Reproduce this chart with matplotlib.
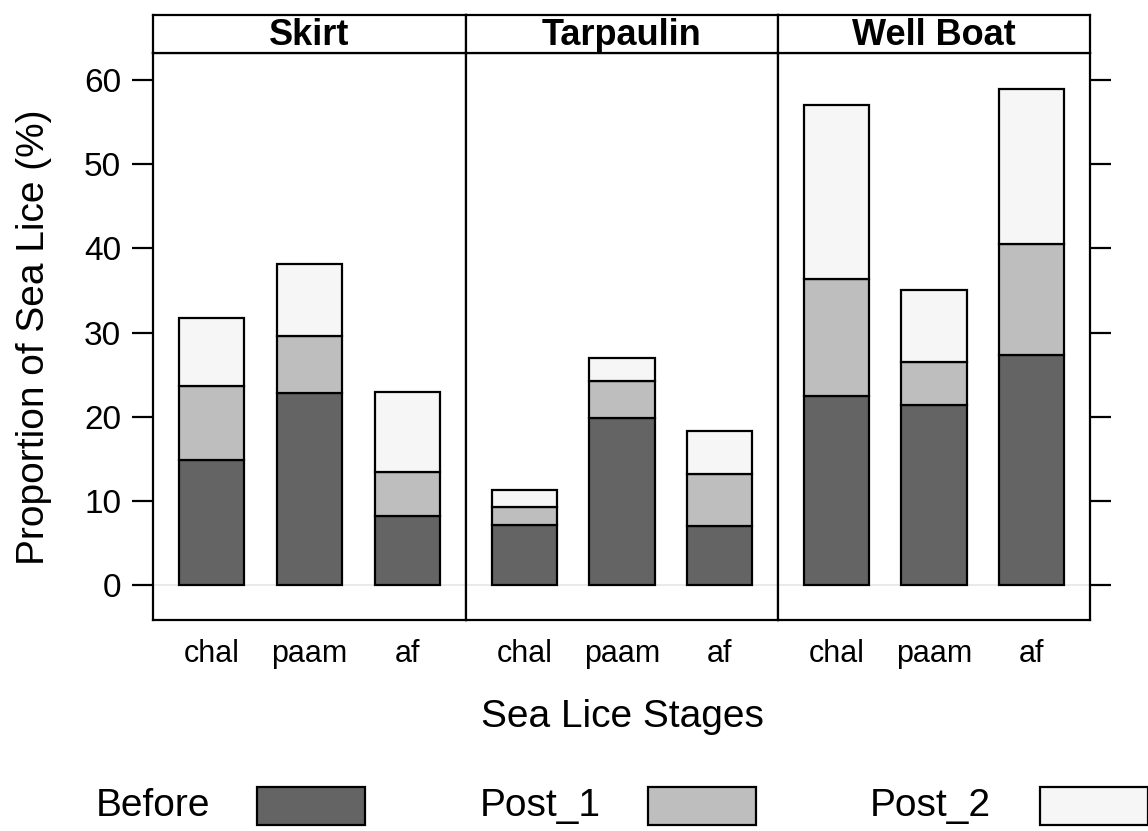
import numpy as np
import matplotlib.pyplot as plt
from matplotlib.patches import Rectangle

plt.rcParams['font.family'] = ['Liberation Sans', 'DejaVu Sans']

# ------------------------------------------
# data (stacked segment sizes, %)
# ------------------------------------------
methods = ["Skirt", "Tarpaulin", "Well Boat"]
stages = ["chal", "paam", "af"]
periods = ["Before", "Post_1", "Post_2"]
colors = ["#646464", "#bebebe", "#f6f6f6"]

before = {
    "Skirt": [14.8, 22.8, 8.2],
    "Tarpaulin": [7.1, 19.8, 7.0],
    "Well Boat": [22.4, 21.4, 27.3],
}
post_1 = {
    "Skirt": [8.9, 6.8, 5.2],
    "Tarpaulin": [2.2, 4.4, 6.2],
    "Well Boat": [13.9, 5.1, 13.2],
}
post_2 = {
    "Skirt": [8.0, 8.5, 9.5],
    "Tarpaulin": [2.0, 2.8, 5.1],
    "Well Boat": [20.7, 8.5, 18.4],
}
yticks = [0, 10, 20, 30, 40, 50, 60]

W, H = 1148, 831
fig = plt.figure(figsize=(W / 100, H / 100), dpi=100)

def fx(px):
    return px / W

def fy(py):
    return 1 - py / H

edges = [153, 466, 778, 1090]
top, bottom, strip_top = 53, 620, 15
lw = 1.6

x = np.arange(1, len(stages) + 1)
for i, m in enumerate(methods):
    ax = fig.add_axes([fx(edges[i]), fy(bottom), fx(edges[i + 1] - edges[i]), fy(top) - fy(bottom)])
    ax.axhline(0, color="#e6e6e6", lw=1.2, zorder=0)
    base = np.zeros(len(stages))
    for vals, c in zip([before[m], post_1[m], post_2[m]], colors):
        ax.bar(x, vals, bottom=base, width=0.67, color=c, edgecolor="black", lw=lw, zorder=2)
        base = base + np.array(vals)
    ax.set_xlim(0.4, 3.6)
    ax.set_ylim(-4.15, 63.2)
    ax.set_xticks(x)
    ax.set_xticklabels(stages, fontsize=22)
    ax.tick_params(axis="x", length=0, pad=14)
    ax.set_yticks(yticks)
    if i == 0:
        ax.tick_params(axis="y", left=True, right=False, labelleft=True, labelsize=24,
                       length=15, width=lw, direction="out", pad=8)
    elif i == len(methods) - 1:
        ax.tick_params(axis="y", left=False, right=True, labelleft=False, labelright=False,
                       length=15, width=lw, direction="out")
    else:
        ax.tick_params(axis="y", left=False, labelleft=False)
    for s in ax.spines.values():
        s.set_linewidth(lw)

    # strip
    sax = fig.add_axes([fx(edges[i]), fy(top), fx(edges[i + 1] - edges[i]), fy(strip_top) - fy(top)])
    sax.set_xticks([])
    sax.set_yticks([])
    for s in sax.spines.values():
        s.set_linewidth(lw)
    sax.text(0.5, 0.47, m, ha="center", va="center", fontsize=26, fontweight="bold",
             transform=sax.transAxes)

fig.text(fx(622), fy(717), "Sea Lice Stages", ha="center", va="center", fontsize=28)
fig.text(fx(34), fy(337), "Proportion of Sea Lice (%)", ha="center", va="center",
         rotation=90, fontsize=28)

# legend along the bottom
leg_text_x = [153, 540, 930]
leg_box_x = [257, 648, 1040]
for lab, c, tx, bx in zip(periods, colors, leg_text_x, leg_box_x):
    fig.text(fx(tx), fy(806), lab, ha="center", va="center", fontsize=28)
    fig.patches.append(Rectangle((fx(bx), fy(825)), fx(108), fy(787) - fy(825),
                                 transform=fig.transFigure, facecolor=c,
                                 edgecolor="black", lw=lw))

fig.savefig("out.png", dpi=100)
